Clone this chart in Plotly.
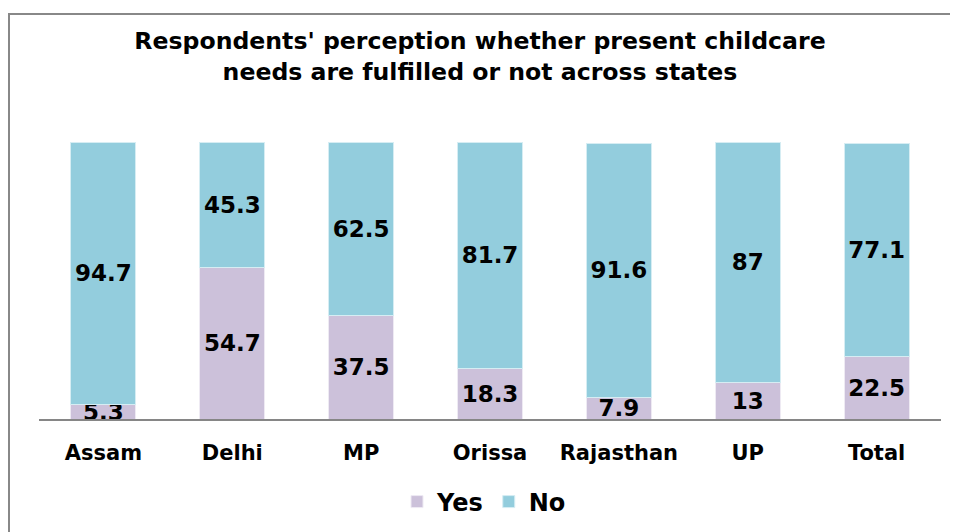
import plotly.graph_objects as go

categories = ["Assam", "Delhi", "MP", "Orissa", "Rajasthan", "UP", "Total"]
yes_values = [5.3, 54.7, 37.5, 18.3, 7.9, 13, 22.5]
no_values = [94.7, 45.3, 62.5, 81.7, 91.6, 87, 77.1]

title_text = "Respondents' perception whether present childcare<br>needs are fulfilled or not across states"

FONT = "DejaVu Sans"
OFF = 8  # page body margin
W, H = 958 - OFF, 532 - OFF
left, right, top, bottom = 39 - OFF, 941 - OFF, 142 - OFF, 419 - OFF
ml, mr, mt, mb = left, W - right, top, H - bottom
pw, ph = right - left, bottom - top

fig = go.Figure()
fig.add_trace(go.Bar(
    x=categories, y=yes_values, name="Yes",
    marker=dict(color="#CCC1DA", line=dict(color="#EEEAF3", width=1)),
    text=[f"{v:g}" for v in yes_values], textposition="inside",
    insidetextanchor="middle", textangle=0, constraintext="none",
    textfont=dict(family=FONT, size=23, color="#000000", weight="bold"),
    cliponaxis=False,
))
fig.add_trace(go.Bar(
    x=categories, y=no_values, name="No",
    marker=dict(color="#93CDDD", line=dict(color="#D6EDF3", width=1)),
    text=[f"{v:g}" for v in no_values], textposition="inside",
    insidetextanchor="middle", textangle=0, constraintext="none",
    textfont=dict(family=FONT, size=23, color="#000000", weight="bold"),
    cliponaxis=False,
))

fig.update_layout(
    width=W, height=H,
    barmode="stack", bargap=0.496,
    margin=dict(l=ml, r=mr, t=mt, b=mb, autoexpand=False),
    paper_bgcolor="white", plot_bgcolor="white",
    title=dict(text=title_text, x=(480 - OFF) / W, xanchor="center", y=1 - (49 - OFF) / H, yanchor="middle",
               font=dict(family=FONT, size=23.6, color="#000000", weight="bold")),
    xaxis=dict(showline=True, linecolor="#868686", linewidth=2, showgrid=False,
               ticks="outside", ticklen=14, tickcolor="rgba(0,0,0,0)", automargin=False,
               tickfont=dict(family=FONT, size=21, color="#000000", weight="bold")),
    yaxis=dict(range=[0, 100], visible=False, showgrid=False, automargin=False),
    legend=dict(orientation="h", x=(484 - 39) / pw, xanchor="center", y=(419 - 502) / ph, yanchor="middle",
                font=dict(family=FONT, size=24, color="#000000", weight="bold"),
                traceorder="normal", itemwidth=30),
    showlegend=True,
)

fig.add_shape(type="rect", xref="paper", yref="paper",
              x0=(9 - 39) / pw, x1=(975 - 39) / pw,
              y0=(419 - 545) / ph, y1=(419 - 14) / ph,
              line=dict(color="#888888", width=2), fillcolor="rgba(0,0,0,0)", layer="below")

fig.write_html("out.html")
